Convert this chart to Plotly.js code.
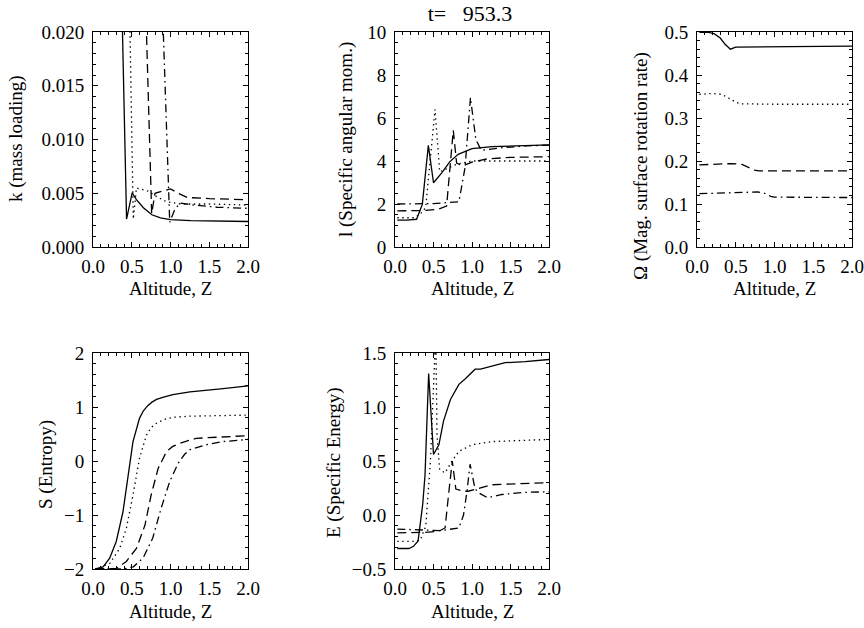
<!DOCTYPE html>
<html>
<head>
<meta charset="utf-8">
<script src="https://cdn.plot.ly/plotly-3.0.1.min.js"></script>
<style>html,body{margin:0;padding:0;background:#fff;}#chart{width:864px;height:628px;}</style>
</head>
<body>
<div id="chart"></div>
<script>
// ---------- data ----------
const titleText = "t=\u00a0\u00a0\u00a0953.3";
const xTitle = "Altitude, Z";
const xTickVals = [0, 0.5, 1.0, 1.5, 2.0];

// k (mass loading)
const kSolidX = [0.03, 0.2, 0.35, 0.433, 0.506, 0.56, 0.65, 0.76, 0.87, 1.0, 1.26, 2.0];
const kSolidY = [0.5, 0.2, 0.03, 0.0026, 0.00505, 0.0044, 0.00365, 0.0030, 0.0027, 0.00255, 0.00246, 0.00237];
const kDotX = [0.03, 0.3, 0.45, 0.52, 0.56, 0.71, 0.82, 0.95, 1.13, 1.5, 2.0];
const kDotY = [0.5, 0.2, 0.031, 0.0026, 0.0055, 0.0052, 0.0047, 0.0042, 0.0040, 0.0040, 0.0039];
const kDashX = [0.03, 0.4, 0.65, 0.757, 0.8, 0.9, 1.0, 1.1, 1.22, 1.5, 2.0];
const kDashY = [0.5, 0.2, 0.030, 0.0031, 0.0050, 0.0052, 0.0054, 0.0050, 0.0046, 0.0045, 0.0044];
const kDashDotX = [0.03, 0.5, 0.86, 0.99, 1.05, 1.12, 1.3, 1.6, 2.0];
const kDashDotY = [0.5, 0.2, 0.030, 0.0023, 0.0034, 0.0041, 0.0039, 0.0037, 0.0036];

// l (specific angular momentum)
const lSolidX = [0.03, 0.15, 0.28, 0.355, 0.433, 0.50, 0.61, 0.71, 0.82, 1.0, 1.26, 1.6, 2.0];
const lSolidY = [1.25, 1.25, 1.29, 1.98, 4.73, 2.99, 3.46, 3.96, 4.31, 4.58, 4.67, 4.72, 4.75];
const lDotX = [0.03, 0.26, 0.37, 0.40, 0.52, 0.58, 0.65, 0.8, 1.0, 1.5, 2.0];
const lDotY = [1.36, 1.36, 1.67, 1.9, 6.4, 3.5, 3.6, 3.85, 4.0, 4.0, 4.0];
const lDashX = [0.03, 0.4, 0.56, 0.67, 0.757, 0.80, 0.88, 1.0, 1.2, 1.5, 2.0];
const lDashY = [1.68, 1.7, 1.75, 1.9, 5.43, 3.9, 3.77, 3.95, 4.1, 4.17, 4.2];
const lDashDotX = [0.03, 0.5, 0.83, 0.91, 0.98, 1.05, 1.12, 1.4, 1.7, 2.0];
const lDashDotY = [2.0, 2.02, 2.1, 3.7, 6.95, 5.0, 4.5, 4.62, 4.7, 4.74];

// Omega (magnetic surface rotation rate)
const oSolidX = [0.03, 0.15, 0.22, 0.3, 0.36, 0.43, 0.5, 0.8, 1.2, 2.0];
const oSolidY = [0.499, 0.499, 0.496, 0.486, 0.472, 0.460, 0.465, 0.465, 0.466, 0.467];
const oDotX = [0.03, 0.2, 0.32, 0.42, 0.5, 0.56, 1.0, 2.0];
const oDotY = [0.355, 0.357, 0.355, 0.345, 0.337, 0.333, 0.332, 0.332];
const oDashX = [0.03, 0.3, 0.45, 0.58, 0.67, 0.74, 0.8, 1.2, 2.0];
const oDashY = [0.191, 0.193, 0.194, 0.192, 0.185, 0.179, 0.177, 0.177, 0.177];
const oDashDotX = [0.03, 0.3, 0.6, 0.78, 0.87, 0.95, 1.0, 1.5, 2.0];
const oDashDotY = [0.124, 0.126, 0.128, 0.128, 0.125, 0.118, 0.116, 0.115, 0.115];

// S (entropy)
const sSolidX = [0.03, 0.13, 0.215, 0.30, 0.387, 0.45, 0.516, 0.60, 0.65, 0.71, 0.76, 0.82, 0.90, 1.03, 1.25, 1.68, 2.0];
const sSolidY = [-2.0, -1.96, -1.80, -1.49, -0.94, -0.26, 0.36, 0.79, 0.93, 1.03, 1.09, 1.14, 1.18, 1.23, 1.28, 1.34, 1.39];
const sDotX = [0.03, 0.215, 0.344, 0.43, 0.516, 0.60, 0.69, 0.75, 0.82, 0.92, 1.03, 1.25, 2.0];
const sDotY = [-2.0, -1.90, -1.62, -1.25, -0.63, 0.05, 0.48, 0.62, 0.70, 0.77, 0.81, 0.83, 0.85];
const sDashX = [0.03, 0.30, 0.43, 0.56, 0.67, 0.75, 0.84, 0.95, 1.03, 1.12, 1.33, 1.68, 2.0];
const sDashY = [-2.0, -1.99, -1.86, -1.62, -1.19, -0.63, -0.14, 0.18, 0.27, 0.33, 0.42, 0.45, 0.47];
const sDashDotX = [0.03, 0.39, 0.52, 0.645, 0.77, 0.88, 0.99, 1.10, 1.18, 1.25, 1.46, 1.68, 2.0];
const sDashDotY = [-2.0, -2.0, -1.96, -1.80, -1.43, -0.87, -0.38, -0.04, 0.12, 0.21, 0.30, 0.36, 0.40];

// E (specific energy)
const eSolidX = [0.03, 0.18, 0.24, 0.30, 0.36, 0.39, 0.437, 0.50, 0.57, 0.63, 0.72, 0.83, 0.91, 1.04, 1.11, 1.26, 1.43, 1.69, 2.0];
const eSolidY = [-0.31, -0.31, -0.29, -0.24, 0.10, 0.37, 1.31, 0.56, 0.65, 0.87, 1.07, 1.21, 1.26, 1.35, 1.35, 1.38, 1.41, 1.42, 1.44];
const eDotX = [0.03, 0.26, 0.33, 0.40, 0.46, 0.53, 0.545, 0.58, 0.65, 0.74, 0.83, 1.0, 1.26, 2.0];
const eDotY = [-0.245, -0.245, -0.23, -0.10, 0.50, 1.70, 0.75, 0.42, 0.39, 0.50, 0.59, 0.65, 0.68, 0.70];
const eDashX = [0.03, 0.40, 0.57, 0.65, 0.705, 0.744, 0.79, 0.90, 0.95, 1.05, 1.26, 1.6, 2.0];
const eDashY = [-0.165, -0.16, -0.15, -0.12, 0.25, 0.50, 0.24, 0.22, 0.22, 0.24, 0.28, 0.29, 0.30];
const eDashDotX = [0.03, 0.59, 0.83, 0.89, 0.935, 0.975, 1.04, 1.1, 1.2, 1.39, 1.69, 2.0];
const eDashDotY = [-0.13, -0.145, -0.12, 0.0, 0.22, 0.47, 0.24, 0.20, 0.16, 0.19, 0.21, 0.215];

// ---------- panels ----------
const panels = [
  {ax: 1, ytitle: "k (mass loading)", yrange: [0, 0.020], ydtick: 0.005, yminor: 0.001, yfmt: ".3f",
   series: [[kSolidX, kSolidY], [kDotX, kDotY], [kDashX, kDashY], [kDashDotX, kDashDotY]]},
  {ax: 2, ytitle: "l (Specific angular mom.)", yrange: [0, 10], ydtick: 2, yminor: 0.5, yfmt: "d",
   series: [[lSolidX, lSolidY], [lDotX, lDotY], [lDashX, lDashY], [lDashDotX, lDashDotY]]},
  {ax: 3, ytitle: "\u03a9 (Mag. surface rotation rate)", yrange: [0, 0.5], ydtick: 0.1, yminor: 0.02, yfmt: ".1f",
   series: [[oSolidX, oSolidY], [oDotX, oDotY], [oDashX, oDashY], [oDashDotX, oDashDotY]]},
  {ax: 4, ytitle: "S (Entropy)", yrange: [-2, 2], ydtick: 1, yminor: 0.2, yfmt: "d",
   series: [[sSolidX, sSolidY], [sDotX, sDotY], [sDashX, sDashY], [sDashDotX, sDashDotY]]},
  {ax: 5, ytitle: "E (Specific Energy)", yrange: [-0.5, 1.5], ydtick: 0.5, yminor: 0.1, yfmt: ".1f",
   series: [[eSolidX, eSolidY], [eDotX, eDotY], [eDashX, eDashY], [eDashDotX, eDashDotY]]}
];

// ---------- geometry / styles ----------
const W = 864, H = 628;
const boxes = { // pixel boxes of the plot areas [left, right, top, bottom]
  1: [93, 248, 32, 247], 2: [395, 549, 32, 247], 3: [697, 852, 32, 247],
  4: [93, 248, 353, 569], 5: [395, 549, 353, 569]
};
const ytitlePos = {1: [16, 139], 2: [346, 140], 3: [641, 166], 4: [46, 465], 5: [334, 463]};
const dashes = ["solid", "1.4px,3.6px", "9px,5px", "8px,4px,1.6px,4px"];
const FONT = "Liberation Serif";
const FS = 19;   // tick labels
const TS = 19;   // axis titles

const traces = [];
const layout = {
  width: W, height: H, margin: {l: 0, r: 0, t: 0, b: 0},
  paper_bgcolor: "white", plot_bgcolor: "white", showlegend: false,
  font: {family: FONT, size: FS, color: "black"},
  title: {text: titleText, x: 470 / W, xref: "paper", xanchor: "center", y: 1 - 13 / H, yref: "paper", yanchor: "middle",
          font: {family: FONT, size: 22, color: "black"}},
  annotations: []
};

function baseAxis() {
  return {
    showline: true, linecolor: "black", linewidth: 1, mirror: "allticks",
    ticks: "inside", ticklen: 5, tickwidth: 1, tickcolor: "black",
    showgrid: false, zeroline: false, fixedrange: true,
    tickfont: {family: FONT, size: FS, color: "black"},
    minor: {ticks: "inside", ticklen: 3, tickwidth: 1, tickcolor: "black", showgrid: false}
  };
}

panels.forEach(p => {
  const b = boxes[p.ax];
  const xa = p.ax === 1 ? "x" : "x" + p.ax;
  const ya = p.ax === 1 ? "y" : "y" + p.ax;
  p.series.forEach((s, i) => {
    traces.push({x: s[0], y: s[1], xaxis: xa, yaxis: ya, type: "scatter", mode: "lines",
      line: {color: "black", width: 1.3, dash: dashes[i]}, hoverinfo: "skip", cliponaxis: true});
  });
  const xk = p.ax === 1 ? "xaxis" : "xaxis" + p.ax;
  const yk = p.ax === 1 ? "yaxis" : "yaxis" + p.ax;
  const xaxis = baseAxis();
  Object.assign(xaxis, {domain: [b[0] / W, b[1] / W], anchor: ya, range: [0, 2],
    tickmode: "array", tickvals: xTickVals, tickformat: ".1f", ticklabelstandoff: 2});
  xaxis.minor.dtick = 0.1; xaxis.minor.tick0 = 0;
  const yaxis = baseAxis();
  Object.assign(yaxis, {domain: [1 - b[3] / H, 1 - b[2] / H], anchor: xa, range: p.yrange,
    tick0: p.yrange[0], dtick: p.ydtick, tickformat: p.yfmt, ticklabelstandoff: 4});
  yaxis.minor.dtick = p.yminor; yaxis.minor.tick0 = p.yrange[0];
  layout[xk] = xaxis; layout[yk] = yaxis;
  // x-axis title
  layout.annotations.push({text: xTitle, xref: "paper", yref: "paper", showarrow: false,
    x: (b[0] + b[1]) / 2 / W, y: 1 - (b[3] + 42) / H, xanchor: "center", yanchor: "middle",
    font: {family: FONT, size: TS, color: "black"}});
  // y-axis title
  const t = ytitlePos[p.ax];
  layout.annotations.push({text: p.ytitle, xref: "paper", yref: "paper", showarrow: false, textangle: -90,
    x: t[0] / W, y: 1 - t[1] / H, xanchor: "center", yanchor: "middle",
    font: {family: FONT, size: TS, color: "black"}});
});

Plotly.newPlot("chart", traces, layout, {staticPlot: true, displayModeBar: false});
</script>
</body>
</html>
